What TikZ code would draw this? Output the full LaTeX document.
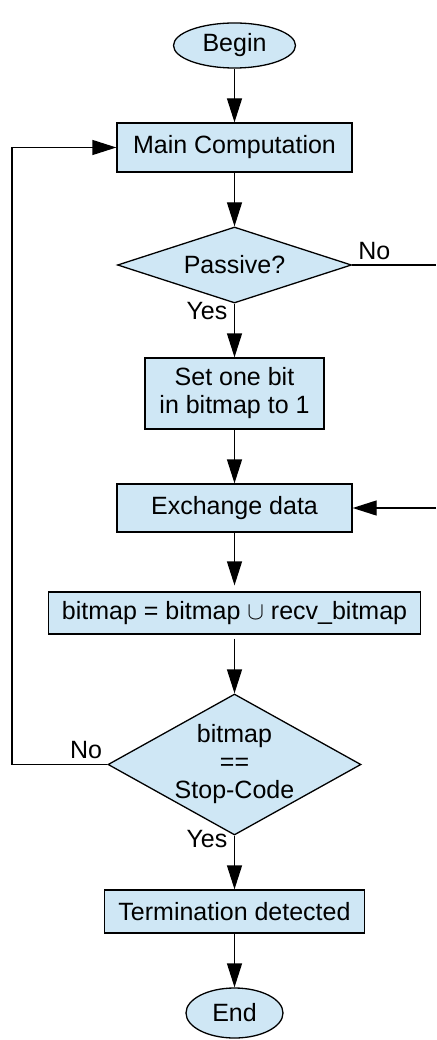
\documentclass[tikz,border=0pt]{standalone}
\usepackage{fontspec}
\setmainfont{Liberation Sans}
\usepackage{tikz}
\usetikzlibrary{shapes.geometric, arrows.meta, positioning}

\definecolor{boxblue}{RGB}{207,231,245}

\begin{document}
\begin{tikzpicture}[
    x=1pt, y=1pt,
    node distance=53.7pt,
    every node/.style={font=\fontsize{25}{28}\selectfont},
    block/.style={
        rectangle, draw, line width=1.3pt,
        fill=boxblue, align=center, inner sep=0pt
    },
    terminal/.style={
        ellipse, draw, line width=1.3pt,
        fill=boxblue, inner sep=0pt
    },
    decision/.style={
        diamond, draw, line width=1.3pt,
        fill=boxblue, align=center, inner sep=-6pt
    },
    arrow/.style={-{Triangle[length=24pt, width=15pt]}, line width=1.3pt},
    note/.style={inner sep=1pt}
]
\useasboundingbox (0,0) rectangle (436,-1040);

% ── Nodes ──
\node[terminal, minimum width=122pt, minimum height=45pt] (begin) at (234.5,-45.5) {Begin};
\node[block, below=of begin, minimum width=235pt, minimum height=49pt] (main) {Main Computation};
\node[decision, below=of main, aspect=3.08, minimum width=234pt, minimum height=76pt] (pass) {Passive?};
\node[block, below=of pass, minimum width=179pt, minimum height=71pt] (setbit) {Set one bit\\in bitmap to 1};
\node[block, below=of setbit, minimum width=235pt, minimum height=48pt] (xchg) {Exchange data};
\node[block, below=58.7pt of xchg, minimum width=372pt, minimum height=42pt] (merge) {bitmap = bitmap $\cup$ recv\_bitmap};
\node[decision, below=58.7pt of merge, aspect=1.8, minimum width=253pt, minimum height=141pt] (stop) {bitmap\\==\\Stop-Code};
\node[block, below=of stop, minimum width=260pt, minimum height=43pt] (term) {Termination detected};
\node[terminal, below=of term, minimum width=97pt, minimum height=50pt] (end) {End};

% ── Free ends at the picture border ──
\coordinate (back) at (12,0);
\coordinate (rim) at (436,0);

% ── Main flow ──
\draw[arrow] (begin) -- (main);
\draw[arrow] (main) -- (pass);
\draw[arrow] (pass) -- (setbit);
\draw[arrow] (setbit) -- (xchg);
\draw[arrow, shorten >=6pt] (xchg) -- (merge);
\draw[arrow, shorten <=4pt] (merge) -- (stop);
\draw[arrow] (stop) -- (term);
\draw[arrow] (term) -- (end);

% ── Branches ──
\draw[line width=1.3pt] (pass.east) -- (pass.east -| rim);
\draw[arrow] (xchg.east -| rim) -- (xchg.east);
\draw[arrow] (stop.west) -- (stop.west -| back) |- (main.west);

% ── Labels ──
\node[note, anchor=south west] (passno) at ([xshift=5pt, yshift=4pt]pass.east) {No};
\node[note, anchor=north east] (passyes) at ([xshift=-6pt, yshift=3pt]pass.south) {Yes};
\node[note, anchor=south east] (stopno) at ([xshift=-4pt, yshift=5pt]stop.west) {No};
\node[note, anchor=north east] (stopyes) at ([xshift=-6pt, yshift=7pt]stop.south) {Yes};

\end{tikzpicture}
\end{document}
